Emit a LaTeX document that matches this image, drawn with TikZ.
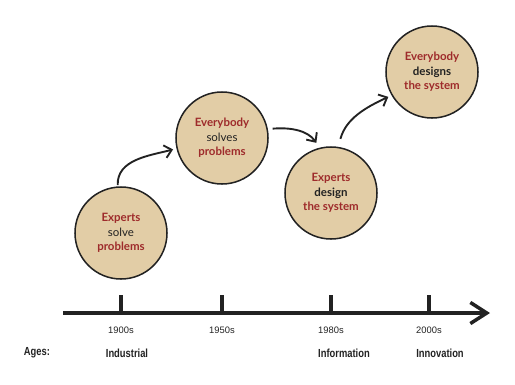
\documentclass[tikz,border=0pt]{standalone}
\usepackage{fontspec}
\setmainfont{Lato}
\newfontfamily\yearfont{Liberation Sans}
\newfontfamily\agefont[FakeStretch=0.8]{Liberation Sans}
\usetikzlibrary{arrows.meta}
\usepackage{xcolor}
\definecolor{tan}{HTML}{E2CDA6}
\definecolor{darkred}{HTML}{9E2B2B}
\definecolor{ink}{HTML}{222222}
\newcommand{\redword}[1]{\textcolor{darkred}{\bfseries #1}}

\begin{document}
\begin{tikzpicture}[x=0.03cm, y=-0.03cm,
    bubble/.style={circle, draw=ink, line width=1.3pt, fill=tan, minimum size=2.76cm,
        inner sep=0pt, align=center, text=ink, font=\fontsize{9.8}{12.5}\selectfont},
    flow/.style={draw=ink, line width=1.6pt, -{Straight Barb[length=6pt,width=11pt]}},
    year/.style={font=\yearfont\fontsize{8}{9}\selectfont, text=ink},
    age/.style={font=\agefont\bfseries\fontsize{10}{12}\selectfont, text=ink}]
\useasboundingbox (0,0) rectangle (515,384);

% Bubbles
\node[bubble] (c1) at (121,233) {\redword{Experts}\\solve\\\redword{problems}};
\node[bubble] (c2) at (222,138) {\redword{Everybody}\\solves\\\redword{problems}};
\node[bubble] (c3) at (331,193) {\redword{Experts}\\\textbf{design}\\\redword{the system}};
\node[bubble] (c4) at (432,72) {\redword{Everybody}\\\textbf{designs}\\\redword{the system}};

% Arrows between bubbles
\draw[flow, shorten <=1pt, shorten >=3pt] (c1.94) to[out=92, in=195] (c2.193);
\draw[flow, shorten <=4pt, shorten >=5pt] (c2.11) to[out=5, in=125] (c3.104);
\draw[flow, shorten <=7pt, shorten >=3pt] (c3.81) to[out=75, in=205] (c4.210);

% Timeline
\coordinate (tl0) at (63,313);
\coordinate (tl1) at (490,313);
\draw[ink, line width=3.4pt, -{Straight Barb[length=14pt,width=18pt,line width=3pt]}] (tl0) -- (tl1);
\foreach \x/\yr [count=\i] in {121/1900s, 222/1950s, 331/1980s, 429/2000s} {
    \coordinate (t\i) at (\x,313);
    \draw[ink, line width=2.6pt] (t\i) -- ++(0,-18);
    \node[year] (y\i) at (\x,330) {\yr};
}

% Ages
\node[age] (ages) at (37,353) {Ages:};
\node[age] (a1) at (127,353) {Industrial};
\node[age] (a3) at (344,353) {Information};
\node[age] (a4) at (440,353) {Innovation};

\end{tikzpicture}
\end{document}
